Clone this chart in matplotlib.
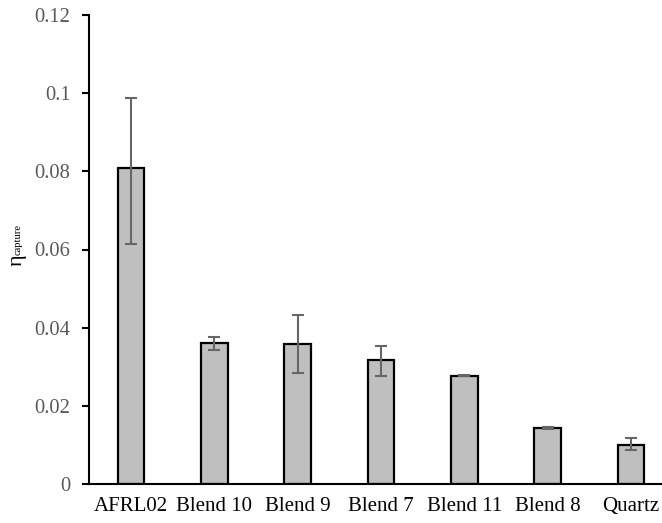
import matplotlib
matplotlib.use("Agg")
import matplotlib.pyplot as plt
import numpy as np

categories = ["AFRL02", "Blend 10", "Blend 9", "Blend 7", "Blend 11", "Blend 8", "Quartz"]
eta_capture = [0.0808, 0.0360, 0.0359, 0.0316, 0.0277, 0.01426, 0.0100]
err_lower = [0.0193, 0.0018, 0.0075, 0.0039, 0.0001, 0.0002, 0.0014]
err_upper = [0.0179, 0.0017, 0.0074, 0.0038, 0.0001, 0.0002, 0.0018]
y_ticks = [0, 0.02, 0.04, 0.06, 0.08, 0.1, 0.12]
y_tick_labels = ["0", "0.02", "0.04", "0.06", "0.08", "0.1", "0.12"]

plt.rcParams["font.family"] = ["Liberation Serif", "DejaVu Serif"]

W, H = 662, 523
fig = plt.figure(figsize=(W / 100, H / 100), dpi=100)
ax = fig.add_axes([89.3 / W, 39 / H, 583.4 / W, 469 / H])

x = np.arange(len(categories))
ax.bar(x, eta_capture, width=0.32, color="#BFBFBF", edgecolor="black", linewidth=1.6, zorder=2)
ax.errorbar(x, eta_capture, yerr=[err_lower, err_upper], fmt="none", ecolor="#666666",
            elinewidth=1.5, capsize=4.3, capthick=1.5, zorder=3)

ax.set_xlim(-0.5, len(categories) - 0.5)
ax.set_ylim(0, 0.12)
ax.set_yticks(y_ticks)
ax.set_yticklabels(y_tick_labels, color="#595959", fontsize=14.8)
ax.set_xticks(x)
ax.set_xticklabels(categories, color="black", fontsize=15)
ax.tick_params(axis="x", length=0, pad=9.5)
ax.tick_params(axis="y", length=5, width=1.5, direction="out", pad=8.5, color="black")

for side in ("top", "right"):
    ax.spines[side].set_visible(False)
for side in ("left", "bottom"):
    ax.spines[side].set_linewidth(1.5)
    ax.spines[side].set_color("black")

# y-axis label: upright eta with a small "capture" subscript
fig.text(17 / W, 1 - 260 / H, "η", rotation=90, fontsize=16, ha="center", va="center")
fig.text(18.5 / W, 1 - 240 / H, "capture", rotation=90, fontsize=7.6, ha="center", va="center")

fig.savefig("out.png", dpi=100)
